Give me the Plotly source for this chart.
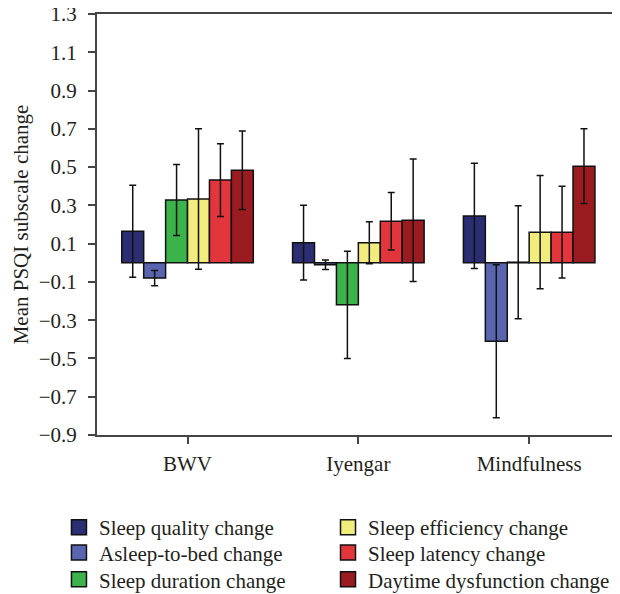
import plotly.graph_objects as go

groups = ["BWV", "Iyengar", "Mindfulness"]
series_names = [
    "Sleep quality change",
    "Asleep-to-bed change",
    "Sleep duration change",
    "Sleep efficiency change",
    "Sleep latency change",
    "Daytime dysfunction change",
]
colors = ["#2B2E72", "#5A65B0", "#3BB24A", "#F1EC7C", "#E3363C", "#9A1B20"]

sleep_quality = [0.165, 0.105, 0.245]
asleep_to_bed = [-0.08, -0.01, -0.41]
sleep_duration = [0.328, -0.22, 0.003]
sleep_efficiency = [0.333, 0.105, 0.16]
sleep_latency = [0.432, 0.217, 0.16]
daytime_dysfunction = [0.484, 0.222, 0.505]

err_quality = [0.24, 0.195, 0.275]
err_asleep = [0.04, 0.025, 0.4]
err_duration = [0.185, 0.28, 0.295]
err_efficiency = [0.367, 0.11, 0.296]
err_latency = [0.19, 0.15, 0.24]
err_daytime = [0.205, 0.32, 0.195]

values = [sleep_quality, asleep_to_bed, sleep_duration,
          sleep_efficiency, sleep_latency, daytime_dysfunction]
errors = [err_quality, err_asleep, err_duration,
          err_efficiency, err_latency, err_daytime]

y_ticks = [1.3, 1.1, 0.9, 0.7, 0.5, 0.3, 0.1, -0.1, -0.3, -0.5, -0.7, -0.9]

FONT = "Liberation Serif"
TXT = "#231F20"
EDGE = "#111111"

# legend slots: (column x, row y) in paper coordinates, one legend per series
legend_x = [-0.073, -0.073, -0.073, 0.4434, 0.4434, 0.4434]
legend_y = [-0.171, -0.231, -0.295, -0.171, -0.231, -0.295]

fig = go.Figure()
for i, (name, vals, errs, col) in enumerate(zip(series_names, values, errors, colors)):
    fig.add_trace(go.Bar(
        x=groups, y=vals, name=name, showlegend=False,
        marker=dict(color=col, line=dict(color=EDGE, width=1.5)),
        error_y=dict(type="data", array=errs, visible=True,
                     color=EDGE, thickness=1.5, width=3.5),
    ))

legend_layout = {}
for i, (name, col) in enumerate(zip(series_names, colors)):
    key = "legend" if i == 0 else f"legend{i + 1}"
    # legend-only entry (no data drawn) to get a larger square swatch
    fig.add_trace(go.Scatter(
        x=[None], y=[None], mode="markers", name=name, legend=key,
        marker=dict(symbol="square", size=15, color=col,
                    line=dict(color=EDGE, width=1.5)),
        showlegend=True,
    ))
    legend_layout[key] = dict(
        x=legend_x[i], y=legend_y[i], xanchor="left", yanchor="top",
        font=dict(family=FONT, size=21, color=TXT), itemsizing="trace",
        bgcolor="rgba(0,0,0,0)", borderwidth=0,
    )

fig.update_layout(
    width=612, height=586,
    margin=dict(l=89, r=2, t=6, b=159, autoexpand=False),
    paper_bgcolor="white", plot_bgcolor="white",
    font=dict(family=FONT, size=21, color=TXT),
    barmode="group", bargap=0.23, bargroupgap=0,
    showlegend=True,
    **legend_layout,
)
fig.update_xaxes(
    range=[-0.53, 2.52], showgrid=False, zeroline=False,
    showline=True, linecolor="#444444", linewidth=2, mirror=True,
    ticks="outside", ticklen=7, tickcolor="#444444", tickwidth=1.5,
    ticklabelstandoff=2,
    tickfont=dict(family=FONT, size=21, color=TXT),
)
fig.update_yaxes(
    range=[-0.9, 1.3], showgrid=False, zeroline=False,
    showline=True, linecolor="#444444", linewidth=2, mirror=True,
    ticks="outside", ticklen=7, tickcolor="#444444", tickwidth=1.5,
    ticklabelstandoff=7, ticklabeloverflow="allow",
    tickvals=y_ticks, ticktext=[f"{v:.1f}".replace("-", "\u2212") for v in y_ticks],
    tickfont=dict(family=FONT, size=21, color=TXT),
    title=dict(text="Mean PSQI subscale change", standoff=4,
               font=dict(family=FONT, size=21, color=TXT)),
)

fig.write_html("out.html")
